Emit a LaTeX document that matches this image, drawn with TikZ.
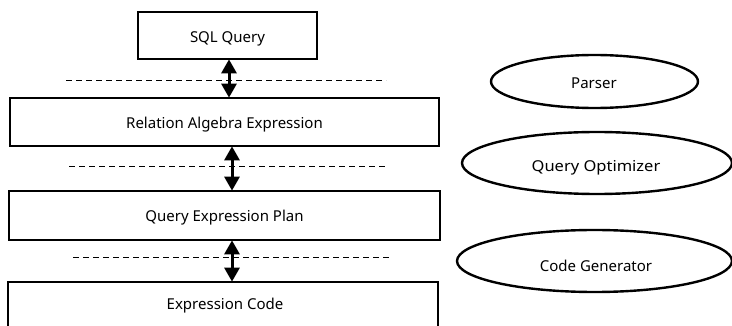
\documentclass[tikz,border=0pt]{standalone}
\usepackage{fontspec}
\setmainfont{Noto Sans}
\usetikzlibrary{shapes.geometric,arrows.meta}
\begin{document}
\begin{tikzpicture}[x=1pt,y=-1pt,
  stage/.style={draw,line width=2.7pt,rectangle,inner sep=0pt},
  unit/.style={draw,line width=2.4pt,ellipse,inner sep=0pt},
  lbl/.style={font=\fontsize{15}{18}\selectfont,inner sep=0pt},
  sep/.style={dashed,line width=1pt,dash pattern=on 6pt off 4pt},
  flow/.style={line width=3pt,{Triangle[width=15pt,length=14pt]}-{Triangle[width=15pt,length=14pt]},shorten <=-1pt,shorten >=-1pt}]
\useasboundingbox (0,0) rectangle (732,326);
\clip (0,0) rectangle (732,326);

% pipeline stages
\node[stage,minimum width=179pt,minimum height=47pt] (sql) at (227.5,35.5) {};
\node[stage,minimum width=429pt,minimum height=48pt] (rel) at (224.5,122) {};
\node[stage,minimum width=431pt,minimum height=49pt] (qep) at (224.5,215.5) {};
\node[stage,minimum width=430pt,minimum height=70pt] (code) at (223,317) {};

\node[lbl] (sqlt) at (227.5,38.5) {SQL Query};
\node[lbl] (relt) at (224.5,125) {Relation Algebra Expression};
\node[lbl] (qept) at (224.5,218) {Query Expression Plan};
\node[lbl] (codet) at (225,306) {Expression Code};

% phase boundaries
\coordinate (d1a) at (66,81);  \coordinate (d1b) at (386,81);
\coordinate (d2a) at (69,167); \coordinate (d2b) at (388,167);
\coordinate (d3a) at (73,258); \coordinate (d3b) at (392,258);
\draw[sep] (d1a) -- (d1b);
\draw[sep] (d2a) -- (d2b);
\draw[sep] (d3a) -- (d3b);

% transitions between stages
\coordinate (a1) at (229,0);
\coordinate (a2) at (232,0);
\draw[flow] (sql.south -| a1) -- (rel.north -| a1);
\draw[flow] (rel.south -| a2) -- (qep.north -| a2);
\draw[flow] (qep.south -| a2) -- (code.north -| a2);

% components performing each phase
\node[unit,minimum width=207pt,minimum height=53pt] (parser) at (594.5,81.5) {};
\node[unit,minimum width=270pt,minimum height=62pt] (opt) at (597,163) {};
\node[unit,minimum width=275pt,minimum height=62pt] (gen) at (594.5,261) {};

\node[lbl] (parsert) at (594,83) {Parser};
\node[lbl,xscale=1.1] (optt) at (596,168) {Query Optimizer};
\node[lbl] (gent) at (596,266) {Code Generator};
\end{tikzpicture}
\end{document}
